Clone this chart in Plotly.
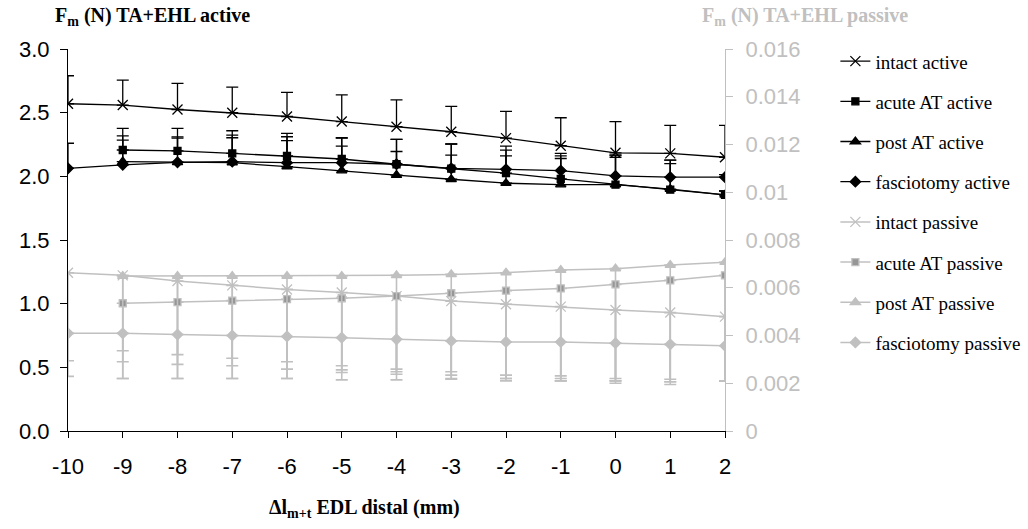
import plotly.graph_objects as go

# ---------------- data ----------------
x_all = [-10, -9, -8, -7, -6, -5, -4, -3, -2, -1, 0, 1, 2]
x_m9 = [-9, -8, -7, -6, -5, -4, -3, -2, -1, 0, 1, 2]
x_ticktext = ["-10", "-9", "-8", "-7", "-6", "-5", "-4", "-3", "-2", "-1", "0", "1", "2"]

intact_active = [2.57, 2.56, 2.525, 2.50, 2.47, 2.43, 2.39, 2.35, 2.30, 2.24, 2.185, 2.18, 2.15]
intact_active_sd = [0.22, 0.195, 0.205, 0.20, 0.19, 0.21, 0.21, 0.20, 0.21, 0.22, 0.245, 0.22, 0.25]

acute_active = [2.207, 2.20, 2.18, 2.16, 2.136, 2.095, 2.06, 2.025, 1.98, 1.935, 1.895, 1.855]
acute_active_sd = [0.17, 0.176, 0.178, 0.177, 0.167, 0.195, 0.194, 0.213, 0.20, 0.232, 0.233, 0.03]

post_active = [2.115, 2.11, 2.107, 2.076, 2.045, 2.01, 1.977, 1.946, 1.935, 1.935, 1.90, 1.855]
post_active_sd = [0.203, 0.20, 0.217, 0.235, 0.255, 0.185, 0.19, 0.26, 0.225, 0.215, 0.20, 0.03]

fasc_active = [2.063, 2.09, 2.11, 2.115, 2.107, 2.107, 2.095, 2.063, 2.055, 2.045, 2.003, 1.993, 1.993]
fasc_active_sd = [0.197, 0.195, 0.19, 0.188, 0.173, 0.131, 0.195, 0.191, 0.105, 0.095, 0.164, 0.135, 0.02]

intact_passive = [0.00663, 0.00652, 0.00628, 0.0061, 0.00593, 0.0058, 0.00565, 0.00544, 0.00531, 0.00521, 0.00507, 0.00496, 0.00479]
intact_passive_sd = [0.00434, 0.00432, 0.00408, 0.0039, 0.00373, 0.00366, 0.00351, 0.00327, 0.00321, 0.00311, 0.00307, 0.00301, 0.00269]

acute_passive = [0.00535, 0.0054, 0.00546, 0.00552, 0.00556, 0.00565, 0.00577, 0.00588, 0.00597, 0.00614, 0.00631, 0.00652]
acute_passive_sd = [0.00199, 0.0022, 0.00241, 0.00262, 0.00283, 0.00306, 0.00329, 0.00354, 0.00366, 0.00394, 0.00414, 0.00442]

post_passive = [0.00649, 0.00649, 0.00649, 0.00649, 0.00649, 0.00652, 0.00656, 0.00663, 0.00674, 0.0068, 0.00695, 0.00707]
post_passive_sd = [0.00359, 0.0037, 0.00376, 0.0039, 0.00404, 0.00414, 0.00422, 0.00443, 0.00464, 0.0047, 0.00489, 0.00497]

fasc_passive = [0.00409, 0.00409, 0.00404, 0.004, 0.00396, 0.00391, 0.00384, 0.00377, 0.00373, 0.00373, 0.00368, 0.00363, 0.00357]
fasc_passive_sd = [0.00115, 0.00189, 0.00184, 0.0018, 0.00176, 0.00135, 0.00136, 0.00157, 0.00153, 0.00153, 0.00158, 0.00157, 0.00147]

y1_ticks = [0.0, 0.5, 1.0, 1.5, 2.0, 2.5, 3.0]
y2_ticks = [0, 0.002, 0.004, 0.006, 0.008, 0.01, 0.012, 0.014, 0.016]
y2_ticktext = ["0", "0.002", "0.004", "0.006", "0.008", "0.01", "0.012", "0.014", "0.016"]

# ---------------- styles ----------------
BLACK = "#000000"
GRAY = "#c0c0c0"
DGRAY = "#969696"

fig = go.Figure()


def active(name, xs, ys, sd, symbol, size):
    fig.add_trace(go.Scatter(
        x=xs, y=ys, name=name, mode="lines+markers", yaxis="y",
        legendgroup=name,
        line=dict(color=BLACK, width=1.3),
        marker=dict(symbol=symbol, size=size, color=BLACK,
                    line=dict(color=BLACK, width=1.3)),
        error_y=dict(type="data", symmetric=False, array=sd,
                     arrayminus=[0] * len(sd), color=BLACK,
                     thickness=1.3, width=6),
    ))


def passive(name, xs, ys, sd, symbol, size, fill=GRAY):
    fig.add_trace(go.Scatter(
        x=xs, y=ys, name=name, mode="lines+markers", yaxis="y2",
        legendgroup=name,
        line=dict(color=GRAY, width=1.5),
        marker=dict(symbol=symbol, size=size, color=fill,
                    line=dict(color=GRAY, width=1.3)),
        error_y=dict(type="data", symmetric=False, array=[0] * len(sd),
                     arrayminus=sd, color=GRAY, thickness=1.6, width=6),
    ))


active("intact active", x_all, intact_active, intact_active_sd, "x-thin", 10)
active("acute AT active", x_m9, acute_active, acute_active_sd, "square", 7)
active("post AT active", x_m9, post_active, post_active_sd, "triangle-up", 9)
active("fasciotomy active", x_all, fasc_active, fasc_active_sd, "diamond", 8)

passive("intact passive", x_all, intact_passive, intact_passive_sd, "x-thin", 10)
passive("acute AT passive", x_m9, acute_passive, acute_passive_sd, "square", 7, DGRAY)
passive("post AT passive", x_m9, post_passive, post_passive_sd, "triangle-up", 9)
passive("fasciotomy passive", x_all, fasc_passive, fasc_passive_sd, "diamond", 8)

SANS = "Liberation Sans, Arial, sans-serif"
SERIF = "Liberation Serif, Times New Roman, serif"

fig.update_layout(
    width=1028, height=529,
    margin=dict(l=68, r=303, t=49, b=98, autoexpand=False),
    paper_bgcolor="white", plot_bgcolor="white",
    font=dict(family=SANS, size=22, color=BLACK),
    showlegend=True,
    legend=dict(
        x=1.168, y=0.180, xanchor="left", yanchor="bottom",
        font=dict(family=SERIF, size=19),
        traceorder="grouped", tracegroupgap=12.5,
        bgcolor="rgba(0,0,0,0)", borderwidth=0,
    ),
    xaxis=dict(
        range=[-10, 2], tickmode="array", tickvals=x_all, ticktext=x_ticktext,
        showline=True, linecolor=BLACK, linewidth=1,
        ticks="outside", ticklen=6, tickcolor=BLACK,
        ticklabelstandoff=10,
        showgrid=False, zeroline=False,
        tickfont=dict(family=SANS, size=22, color=BLACK),
    ),
    yaxis=dict(
        range=[0, 3], tickmode="array", tickvals=y1_ticks,
        tickformat=".1f",
        showline=True, linecolor=BLACK, linewidth=1,
        ticks="outside", ticklen=7, tickcolor=BLACK,
        ticklabelstandoff=6,
        showgrid=False, zeroline=False,
        tickfont=dict(family=SANS, size=22, color=BLACK),
    ),
    yaxis2=dict(
        range=[0, 0.016], overlaying="y", side="right",
        tickmode="array", tickvals=y2_ticks, ticktext=y2_ticktext,
        showline=True, linecolor=GRAY, linewidth=1,
        ticks="outside", ticklen=7, tickcolor=GRAY,
        ticklabelstandoff=8,
        showgrid=False, zeroline=False,
        tickfont=dict(family=SANS, size=22, color=GRAY),
    ),
)

fig.add_annotation(
    text="<b>F<sub>m</sub> (N) TA+EHL active</b>",
    xref="paper", yref="paper", x=(152 - 68) / 657, y=1 + (49 - 17) / 382,
    xanchor="center", yanchor="middle", showarrow=False,
    font=dict(family=SERIF, size=20, color=BLACK),
)
fig.add_annotation(
    text="<b>F<sub>m</sub> (N) TA+EHL passive</b>",
    xref="paper", yref="paper", x=(805 - 68) / 657, y=1 + (49 - 17) / 382,
    xanchor="center", yanchor="middle", showarrow=False,
    font=dict(family=SERIF, size=20, color=GRAY),
)
fig.add_annotation(
    text="<b>Δl<sub>m+t</sub> EDL distal (mm)</b>",
    xref="paper", yref="paper", x=(364 - 68) / 657, y=-(508 - 431) / 382,
    xanchor="center", yanchor="middle", showarrow=False,
    font=dict(family=SERIF, size=20, color=BLACK),
)

fig.write_html("out.html")
